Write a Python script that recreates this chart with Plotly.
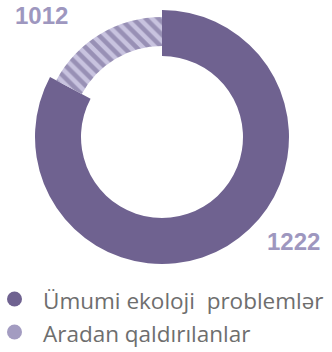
import plotly.graph_objects as go

# Ecological problems: total registered vs. resolved
total_problems = 1222
resolved_problems = 1012
value_labels = ["1222", "1012"]
legend_labels = ["Ümumi ekoloji  problemlər", "Aradan qaldırılanlar"]

dark = "#6f6290"
light_bg = "#c8c3df"
light_fg = "#9890b5"
label_color = "#9e97bf"
legend_dot = [dark, "#a39cc1"]

remaining = total_problems - resolved_problems
W, H = 332, 352


def dom(cx, cy, r):
    return dict(x=[(cx - r) / W, (cx + r) / W],
                y=[1 - (cy + r) / H, 1 - (cy - r) / H])


cx, cy = 162, 137
fig = go.Figure()

# Solid ring: resolved share
fig.add_trace(go.Pie(
    values=[resolved_problems, remaining],
    sort=False, direction="clockwise", rotation=0,
    hole=81 / 127,
    marker=dict(colors=[dark, "rgba(0,0,0,0)"], line=dict(width=0)),
    textinfo="none", hoverinfo="skip", showlegend=False,
    domain=dom(cx, cy, 127),
))

# Thinner hatched ring: remaining share
fig.add_trace(go.Pie(
    values=[resolved_problems, remaining],
    sort=False, direction="clockwise", rotation=0,
    hole=91 / 120,
    marker=dict(colors=["rgba(0,0,0,0)", light_bg], line=dict(width=0),
                pattern=dict(shape=["", "\\"], fgcolor=light_fg, fgopacity=1,
                             bgcolor=["rgba(0,0,0,0)", light_bg],
                             size=9, solidity=0.5, fillmode="overlay")),
    textinfo="none", hoverinfo="skip", showlegend=False,
    domain=dom(cx, cy, 120),
))

annotations = [
    dict(text="<b>%s</b>" % value_labels[0], x=293 / W, y=1 - 241 / H,
         xref="paper", yref="paper", xanchor="center", yanchor="middle",
         showarrow=False,
         font=dict(family="Liberation Sans", size=24, color=label_color)),
    dict(text="<b>%s</b>" % value_labels[1], x=41 / W, y=1 - 16 / H,
         xref="paper", yref="paper", xanchor="center", yanchor="middle",
         showarrow=False,
         font=dict(family="Liberation Sans", size=24, color=label_color)),
]
shapes = []
rows_y = [299, 332]
for i, txt in enumerate(legend_labels):
    yc = rows_y[i]
    shapes.append(dict(type="circle", xref="paper", yref="paper",
                       x0=7 / W, x1=22 / W, y0=1 - (yc + 7.5) / H, y1=1 - (yc - 7.5) / H,
                       fillcolor=legend_dot[i], line=dict(width=0)))
    annotations.append(dict(text=txt.replace("  ", "&nbsp; "), x=41 / W, y=1 - (yc + 1) / H,
                            xref="paper", yref="paper", xanchor="left", yanchor="middle",
                            showarrow=False,
                            font=dict(family="Open Sans", size=22.5, color="#6e6e6e")))

fig.update_layout(
    width=W, height=H, margin=dict(l=0, r=0, t=0, b=0),
    paper_bgcolor="white", plot_bgcolor="white",
    annotations=annotations, shapes=shapes,
)
fig.write_html("out.html")
